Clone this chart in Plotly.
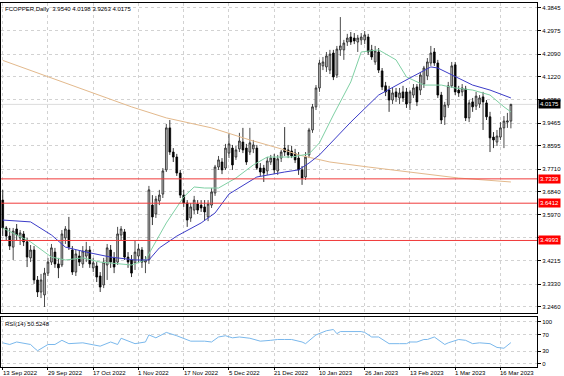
import plotly.graph_objects as go

title_text = "FCOPPER,Daily  3.9540 4.0198 3.9263 4.0175"
rsi_text = "RSI(14) 50.5248"

bar_index = list(range(147))
opens = [3.653,3.547,3.516,3.474,3.543,3.509,3.524,3.494,3.433,3.463,
         3.349,3.303,3.292,3.375,3.417,3.455,3.410,3.406,3.509,3.539,
         3.463,3.379,3.440,3.410,3.440,3.463,3.395,3.402,3.364,3.330,
         3.406,3.463,3.433,3.417,3.520,3.532,3.436,3.425,3.414,3.440,
         3.463,3.417,3.425,3.634,3.600,3.650,3.676,3.768,3.928,3.836,
         3.817,3.756,3.672,3.642,3.585,3.615,3.638,3.634,3.627,3.589,
         3.634,3.680,3.779,3.798,3.775,3.832,3.851,3.817,3.848,3.874,
         3.851,3.836,3.848,3.851,3.775,3.775,3.764,3.798,3.813,3.764,
         3.813,3.851,3.844,3.840,3.832,3.813,3.768,3.741,3.825,3.920,
         4.008,4.080,4.164,4.160,4.148,4.213,4.129,4.225,4.225,4.255,
         4.274,4.270,4.255,4.263,4.263,4.274,4.225,4.179,4.217,4.145,
         4.088,4.072,4.034,4.065,4.042,4.065,4.065,4.023,4.053,4.084,
         4.072,4.095,4.126,4.175,4.217,4.175,4.053,3.970,4.015,4.088,
         4.168,4.072,4.065,4.076,3.966,4.027,4.011,4.019,4.046,4.023,
         3.970,3.893,3.874,3.893,3.928,3.950,3.954]
highs = [3.692,3.554,3.547,3.547,3.562,3.539,3.535,3.509,3.482,3.478,
         3.364,3.372,3.395,3.433,3.486,3.471,3.433,3.539,3.554,3.589,
         3.478,3.463,3.463,3.478,3.494,3.478,3.433,3.417,3.379,3.433,
         3.486,3.482,3.455,3.551,3.554,3.543,3.455,3.444,3.501,3.486,
         3.474,3.440,3.707,3.672,3.669,3.692,3.775,3.943,3.958,3.851,
         3.829,3.768,3.692,3.653,3.642,3.669,3.653,3.653,3.653,3.653,
         3.699,3.787,3.821,3.813,3.867,3.909,3.863,3.859,3.909,3.928,
         3.867,3.928,3.882,3.863,3.794,3.787,3.817,3.825,3.829,3.825,
         3.844,3.931,3.863,3.859,3.848,3.836,3.783,3.836,3.928,4.019,
         4.091,4.187,4.198,4.217,4.225,4.225,4.240,4.350,4.263,4.286,
         4.293,4.289,4.282,4.289,4.297,4.286,4.244,4.240,4.232,4.156,
         4.103,4.088,4.080,4.080,4.080,4.088,4.080,4.072,4.095,4.095,
         4.141,4.164,4.194,4.240,4.232,4.187,4.065,4.027,4.103,4.179,
         4.179,4.088,4.095,4.088,4.034,4.042,4.065,4.053,4.065,4.034,
         3.989,3.912,3.920,3.950,3.973,3.985,4.0198]
lows = [3.516,3.501,3.463,3.425,3.501,3.482,3.478,3.398,3.417,3.334,
        3.284,3.280,3.246,3.364,3.406,3.395,3.356,3.398,3.486,3.463,
        3.368,3.364,3.402,3.395,3.417,3.395,3.379,3.341,3.303,3.318,
        3.349,3.395,3.375,3.406,3.501,3.425,3.395,3.360,3.387,3.417,
        3.395,3.375,3.410,3.558,3.585,3.634,3.661,3.760,3.825,3.798,
        3.745,3.661,3.627,3.551,3.570,3.600,3.600,3.608,3.577,3.573,
        3.623,3.669,3.768,3.752,3.768,3.813,3.768,3.806,3.836,3.832,
        3.787,3.825,3.832,3.768,3.745,3.722,3.749,3.787,3.752,3.749,
        3.798,3.821,3.813,3.813,3.794,3.749,3.711,3.730,3.813,3.909,
        3.996,4.065,4.148,4.141,4.133,4.110,4.118,4.202,4.187,4.240,
        4.244,4.247,4.217,4.244,4.247,4.206,4.187,4.168,4.137,4.072,
        4.049,3.989,4.019,4.027,4.019,4.027,4.004,3.996,4.042,4.011,
        4.053,4.080,4.110,4.164,4.164,4.042,3.943,3.939,4.004,4.080,
        4.053,4.046,4.049,3.954,3.950,3.989,3.996,4.004,3.920,3.958,
        3.836,3.851,3.859,3.882,3.851,3.928,3.9263]
closes = [3.547,3.516,3.478,3.535,3.520,3.528,3.494,3.436,3.463,3.349,
          3.303,3.349,3.375,3.417,3.471,3.410,3.395,3.524,3.543,3.474,
          3.379,3.448,3.417,3.459,3.463,3.410,3.414,3.360,3.322,3.417,
          3.471,3.417,3.398,3.524,3.543,3.436,3.417,3.375,3.455,3.467,
          3.417,3.425,3.692,3.589,3.657,3.672,3.764,3.928,3.836,3.817,
          3.756,3.672,3.642,3.577,3.627,3.653,3.615,3.623,3.608,3.638,
          3.684,3.779,3.806,3.768,3.851,3.867,3.787,3.844,3.878,3.844,
          3.798,3.871,3.863,3.775,3.760,3.756,3.802,3.813,3.768,3.810,
          3.836,3.836,3.825,3.821,3.806,3.768,3.737,3.817,3.920,4.008,
          4.080,4.175,4.179,4.202,4.209,4.122,4.228,4.240,4.251,4.270,
          4.255,4.259,4.270,4.274,4.282,4.217,4.198,4.221,4.148,4.084,
          4.065,4.034,4.061,4.046,4.061,4.042,4.019,4.065,4.080,4.027,
          4.129,4.156,4.179,4.213,4.175,4.053,3.958,4.015,4.088,4.164,
          4.065,4.061,4.080,3.966,4.023,4.008,4.049,4.042,4.027,3.970,
          3.890,3.882,3.897,3.928,3.954,3.954,4.0175]

ma_slow_idx = [0, 14, 28, 37, 47, 60, 71, 80, 85, 94, 105, 117, 131, 146]
ma_slow = [4.185, 4.118, 4.049, 4.008, 3.966, 3.928, 3.882, 3.848, 3.825, 3.798, 3.779, 3.760, 3.737, 3.722]

ma_mid_idx = [0, 8, 14, 18, 24, 31, 38, 42, 45, 50, 57, 61, 65, 73, 81, 85, 88, 91, 100, 108, 117, 123, 125, 130, 135, 140, 146]
ma_mid = [3.577, 3.570, 3.520, 3.474, 3.455, 3.436, 3.425, 3.425, 3.471, 3.516, 3.566, 3.604, 3.676, 3.741, 3.760, 3.768, 3.794, 3.825, 3.950, 4.053, 4.118, 4.160, 4.156, 4.122, 4.091, 4.072, 4.042]

ma_fast_idx = [0, 8, 14, 18, 23, 28, 37, 41, 47, 52, 55, 58, 62, 67, 72, 76, 83, 88, 91, 95, 100, 103, 108, 113, 116, 121, 126, 130, 135, 140, 144, 146]
ma_fast = [3.547, 3.494, 3.436, 3.425, 3.433, 3.417, 3.406, 3.425, 3.566, 3.665, 3.703, 3.699, 3.699, 3.737, 3.787, 3.817, 3.817, 3.829, 3.871, 3.977, 4.103, 4.217, 4.225, 4.187, 4.122, 4.091, 4.091, 4.080, 4.072, 4.053, 4.008, 3.989]

rsi_idx = [0, 2, 4, 8, 9, 10, 13, 15, 17, 19, 23, 26, 28, 31, 33, 34, 37, 38, 41, 42, 44, 45, 47, 50, 54, 58, 60, 62, 64, 66, 68, 71, 74, 77, 79, 81, 83, 86, 87, 90, 93, 95, 96, 97, 103, 104, 106, 108, 111, 114, 116, 117, 119, 121, 122, 124, 127, 128, 131, 133, 135, 137, 140, 142, 144, 146]
rsi_vals = [50, 46, 52, 46, 38, 31, 46, 46, 56, 48, 50, 46, 42, 52, 46, 61, 52, 48, 52, 69, 62, 67, 75, 67, 54, 54, 52, 64, 67, 62, 64, 61, 54, 56, 58, 58, 58, 52, 48, 69, 79, 82, 72, 77, 77, 75, 64, 64, 48, 48, 48, 52, 52, 58, 58, 64, 46, 50, 58, 56, 48, 50, 48, 39, 37, 50.52]

level_values = [3.7339, 3.6412, 3.4993]
level_labels = ["3.7339", "3.6412", "3.4993"]
last_price = 4.0175
last_price_label = "4.0175"

price_ticks = [4.3845, 4.2975, 4.2090, 4.1220, 4.0350, 3.9465, 3.8595, 3.7710, 3.6840, 3.5970, 3.5095, 3.4215, 3.3330, 3.2460]
price_tick_text = ["4.3845", "4.2975", "4.2090", "4.1220", "4.0350", "3.9465", "3.8595", "3.7710", "3.6840", "3.5970", "3.5095", "3.4215", "3.3330", "3.2460"]
rsi_ticks = [0, 30, 70, 100]
date_tick_idx = [0, 13, 26, 39, 52, 65, 78, 91, 104, 117, 130, 143]
date_tick_labels = ["13 Sep 2022", "29 Sep 2022", "17 Oct 2022", "1 Nov 2022", "17 Nov 2022", "5 Dec 2022",
                    "21 Dec 2022", "10 Jan 2023", "26 Jan 2023", "13 Feb 2023", "1 Mar 2023", "16 Mar 2023"]

FONT = "Liberation Sans"
FS = 6
GRID = "#d2d2d2"

fig = go.Figure()
fig.add_trace(go.Candlestick(
    x=bar_index, open=opens, high=highs, low=lows, close=closes,
    increasing=dict(line=dict(color="#202020", width=0.8), fillcolor="#c8c8c8"),
    decreasing=dict(line=dict(color="black", width=0.8), fillcolor="black"),
    whiskerwidth=0, xaxis="x", yaxis="y", showlegend=False, hoverinfo="skip"))
fig.add_trace(go.Scatter(x=ma_slow_idx, y=ma_slow, mode="lines", line=dict(color="#e3b98c", width=1),
                         xaxis="x", yaxis="y", showlegend=False, hoverinfo="skip"))
fig.add_trace(go.Scatter(x=ma_fast_idx, y=ma_fast, mode="lines", line=dict(color="#7fd0a4", width=1),
                         xaxis="x", yaxis="y", showlegend=False, hoverinfo="skip"))
fig.add_trace(go.Scatter(x=ma_mid_idx, y=ma_mid, mode="lines", line=dict(color="#3c3cc8", width=1),
                         xaxis="x", yaxis="y", showlegend=False, hoverinfo="skip"))
fig.add_trace(go.Scatter(x=rsi_idx, y=rsi_vals, mode="lines", line=dict(color="#7ab8ec", width=1),
                         xaxis="x2", yaxis="y2", showlegend=False, hoverinfo="skip"))

shapes = []
for v in level_values:
    shapes.append(dict(type="line", xref="x domain", x0=0, x1=1, yref="y", y0=v, y1=v,
                       line=dict(color="#f03a3a", width=1)))
shapes.append(dict(type="line", xref="x domain", x0=0, x1=1, yref="y", y0=last_price, y1=last_price,
                   line=dict(color="#dcdcdc", width=1), layer="below"))

annotations = [
    dict(text=title_text, xref="paper", yref="paper", x=0, y=1, xanchor="left", yanchor="top",
         xshift=2, yshift=-1, showarrow=False, font=dict(family=FONT, size=FS, color="black")),
    dict(text=rsi_text, xref="paper", yref="y2 domain", x=0, y=1, xanchor="left", yanchor="top",
         xshift=2, yshift=-2, showarrow=False, font=dict(family=FONT, size=FS, color="black")),
]
for v, t in zip(level_values, level_labels):
    annotations.append(dict(text=t, xref="paper", yref="y", x=1, y=v, xanchor="left", yanchor="middle",
                            xshift=1, showarrow=False, bgcolor="#ff0000", borderpad=1,
                            font=dict(family=FONT, size=FS, color="white")))
annotations.append(dict(text=last_price_label, xref="paper", yref="y", x=1, y=last_price, xanchor="left",
                        yanchor="middle", xshift=1, showarrow=False, bgcolor="black", borderpad=1,
                        font=dict(family=FONT, size=FS, color="white")))
for i, t in zip(date_tick_idx, date_tick_labels):
    annotations.append(dict(text=t, xref="x2", yref="y2 domain", x=i, y=0, xanchor="left", yanchor="top",
                            xshift=-2, yshift=-1, showarrow=False,
                            font=dict(family=FONT, size=FS, color="black")))

xr = [-0.5, 153.5]
axis_common = dict(showline=True, mirror=True, linecolor="black", linewidth=1, zeroline=False)
fig.update_layout(
    width=564, height=376, margin=dict(l=1, r=27, t=3, b=9),
    paper_bgcolor="white", plot_bgcolor="white", showlegend=False,
    xaxis=dict(domain=[0, 1], range=xr, anchor="y", tickvals=date_tick_idx, showticklabels=False,
               showgrid=True, gridcolor=GRID, griddash="dot", gridwidth=1, ticks="",
               rangeslider=dict(visible=False), **axis_common),
    yaxis=dict(domain=[0.1484, 1], range=[3.2232, 4.4035], anchor="x", side="right",
               tickvals=price_ticks, ticktext=price_tick_text, showgrid=True, gridcolor=GRID,
               griddash="dot", ticks="outside", ticklen=3, tickcolor="black",
               tickfont=dict(family=FONT, size=FS, color="black"), **axis_common),
    xaxis2=dict(domain=[0, 1], range=xr, anchor="y2", tickvals=date_tick_idx, showticklabels=False,
                showgrid=True, gridcolor=GRID, griddash="dot", ticks="outside", ticklen=2,
                tickcolor="black", **axis_common),
    yaxis2=dict(domain=[0, 0.1374], range=[-8, 112], anchor="x2", side="right",
                tickvals=rsi_ticks, showgrid=True, gridcolor=GRID, griddash="dot",
                ticks="outside", ticklen=3, tickcolor="black",
                tickfont=dict(family=FONT, size=FS, color="black"), **axis_common),
    shapes=shapes, annotations=annotations,
)

fig.write_html("out.html", config={"displayModeBar": False},
               post_script="document.body.style.margin='0px';document.body.style.overflow='hidden';")
